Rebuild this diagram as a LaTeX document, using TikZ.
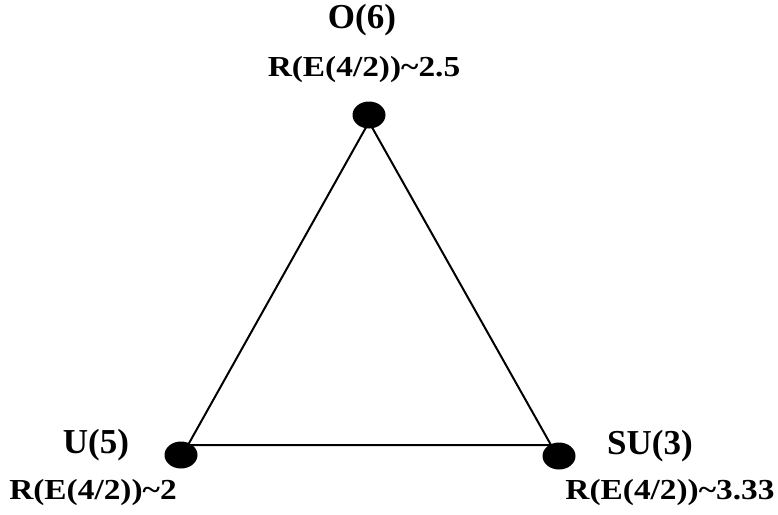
\documentclass[tikz,border=0pt]{standalone}
\usepackage{fontspec}
\setmainfont{Liberation Serif}
\usepackage{graphicx}
\usetikzlibrary{shapes.geometric}

\begin{document}
\begin{tikzpicture}[x=1pt, y=-1pt,
    vertex/.style={ellipse, fill=black, minimum width=33pt, minimum height=27pt, inner sep=0pt},
    grp/.style={font=\fontsize{35}{35}\selectfont\bfseries, inner sep=0pt},
    ratio/.style={font=\fontsize{29}{29}\selectfont\bfseries, inner sep=0pt}]
    \useasboundingbox (0,0) rectangle (778,514);
    % triangle corners
    \coordinate (top) at (369,122);
    \coordinate (left) at (188,445);
    \coordinate (right) at (551,445);
    \draw[line width=2pt] (top) -- (left) -- (right) -- cycle;
    % the three limits
    \node[vertex] (o6) at (369,115) {};
    \node[vertex] (u5) at (181,455) {};
    \node[vertex] (su3) at (559,456) {};
    \node[grp] (o6name) at (362,20) {O(6)};
    \node[ratio] (o6ratio) at (364,70) {\scalebox{1.15}[1]{R(E(4/2))\textasciitilde2.5}};
    \node[grp] (u5name) at (96,445) {U(5)};
    \node[ratio] (u5ratio) at (93,493) {\scalebox{1.15}[1]{R(E(4/2))\textasciitilde2}};
    \node[grp] (su3name) at (650,446) {SU(3)};
    \node[ratio] (su3ratio) at (670,493) {\scalebox{1.15}[1]{R(E(4/2))\textasciitilde3.33}};
\end{tikzpicture}
\end{document}
